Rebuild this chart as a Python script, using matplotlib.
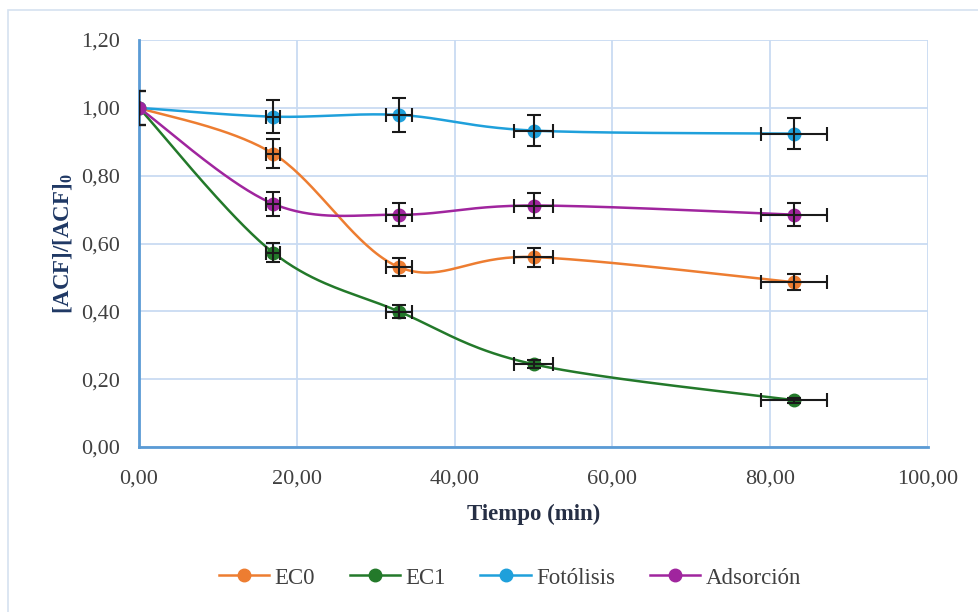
import numpy as np
import matplotlib
matplotlib.use("Agg")
import matplotlib.pyplot as plt
from matplotlib.patches import Rectangle
from matplotlib.lines import Line2D

plt.rcParams['font.family'] = ['Liberation Serif', 'DejaVu Serif']
plt.rcParams['mathtext.fontset'] = 'custom'
plt.rcParams['mathtext.rm'] = 'Liberation Serif'
plt.rcParams['mathtext.bf'] = 'Liberation Serif:bold'

# Sampling times (min)
tiempo = [0, 17, 33, 50, 83]
tiempo_err = [0.0, 0.85, 1.65, 2.5, 4.15]

# Normalised concentration [ACF]/[ACF]0 and their uncertainties
series_names = ["EC0", "EC1", "Fotólisis", "Adsorción"]
ec0 = [1.00, 0.865, 0.530, 0.560, 0.486]
ec1 = [1.00, 0.573, 0.399, 0.244, 0.138]
fotolisis = [1.00, 0.974, 0.979, 0.933, 0.924]
adsorcion = [1.00, 0.717, 0.685, 0.712, 0.685]
ec0_err = [0.05, 0.043, 0.027, 0.028, 0.024]
ec1_err = [0.05, 0.029, 0.020, 0.012, 0.007]
fotolisis_err = [0.05, 0.049, 0.049, 0.047, 0.046]
adsorcion_err = [0.05, 0.036, 0.034, 0.036, 0.034]

x_ticks = [0, 20, 40, 60, 80, 100]
y_ticks = [0.0, 0.2, 0.4, 0.6, 0.8, 1.0, 1.2]

colors = ["#ED7D31", "#23792A", "#1FA0DB", "#A0259E"]

fig = plt.figure(figsize=(9.79, 6.12), dpi=100)
ax = fig.add_axes([139 / 979, 1 - 447 / 612, (928 - 139) / 979, (447 - 40) / 612])

# chart-area border
fig.patches.append(Rectangle((8 / 979, -0.05), 1.1, 1 - 10 / 612 + 0.05,
                             transform=fig.transFigure, fill=False,
                             edgecolor="#D6E2F0", linewidth=1.2))

ax.set_xlim(0, 100)
ax.set_ylim(0, 1.2)
ax.set_xticks(x_ticks)
ax.set_yticks(y_ticks)
ax.set_xticklabels([f"{v:.2f}".replace(".", ",") for v in x_ticks])
ax.set_yticklabels([f"{v:.2f}".replace(".", ",") for v in y_ticks])
ax.tick_params(length=0, labelsize=16, labelcolor="#404040")
ax.tick_params(axis="x", pad=16.5)
ax.tick_params(axis="y", pad=14)
ax.grid(True, color="#C9DBF2", linewidth=1.3)
ax.set_axisbelow(True)
for s in ["top", "right"]:
    ax.spines[s].set_visible(False)
for s in ["left", "bottom"]:
    ax.spines[s].set_color("#5B9BD5")
    ax.spines[s].set_linewidth(2)
    ax.spines[s].set_zorder(1.5)


def smooth(xs, ys, n=40):
    """Catmull-Rom style cubic Bezier smoothing in display space."""
    pts = ax.transData.transform(np.column_stack([xs, ys]))
    p = np.vstack([pts[0], pts, pts[-1]])
    out = []
    for i in range(1, len(p) - 2):
        p0, p1, p2, p3 = p[i - 1], p[i], p[i + 1], p[i + 2]
        c1 = p1 + (p2 - p0) / 6
        c2 = p2 - (p3 - p1) / 6
        t = np.linspace(0, 1, n)[:, None]
        seg = ((1 - t) ** 3) * p1 + 3 * ((1 - t) ** 2) * t * c1 + 3 * (1 - t) * t ** 2 * c2 + t ** 3 * p2
        out.append(seg if i == 1 else seg[1:])
    out = np.vstack(out)
    return ax.transData.inverted().transform(out)


data = [(ec0, ec0_err), (ec1, ec1_err), (fotolisis, fotolisis_err), (adsorcion, adsorcion_err)]
for k, ((vals, errs), col) in enumerate(zip(data, colors)):
    curve = smooth(tiempo, vals)
    ax.plot(curve[:, 0], curve[:, 1], color=col, linewidth=1.8, zorder=3 + k * 0.1)
    ax.plot(tiempo, vals, "o", color=col, markersize=9, zorder=4 + k * 0.1)
    ax.errorbar(tiempo, vals, xerr=tiempo_err, yerr=errs, fmt="none",
                ecolor="#1a1a1a", elinewidth=1.5, capsize=4.8, capthick=1.5,
                zorder=5 + k * 0.1)

ax.set_xlabel("Tiempo (min)", fontsize=16.5, fontweight="bold", color="#262F45", labelpad=11)
ax.set_ylabel(r"[ACF]/[ACF]$_\mathbf{0}$", fontsize=16.5, fontweight="bold", color="#1F3864", labelpad=4)

handles = [Line2D([0], [0], color=c, linewidth=1.8, marker="o", markersize=9) for c in colors]
fig.legend(handles, series_names, loc="center", bbox_to_anchor=(510 / 979, 1 - 578 / 612),
           ncol=4, frameon=False, fontsize=16.5, handlelength=2.2, columnspacing=1.5,
           handletextpad=0.25, labelcolor="#404040")

fig.savefig("out.png", dpi=100)
